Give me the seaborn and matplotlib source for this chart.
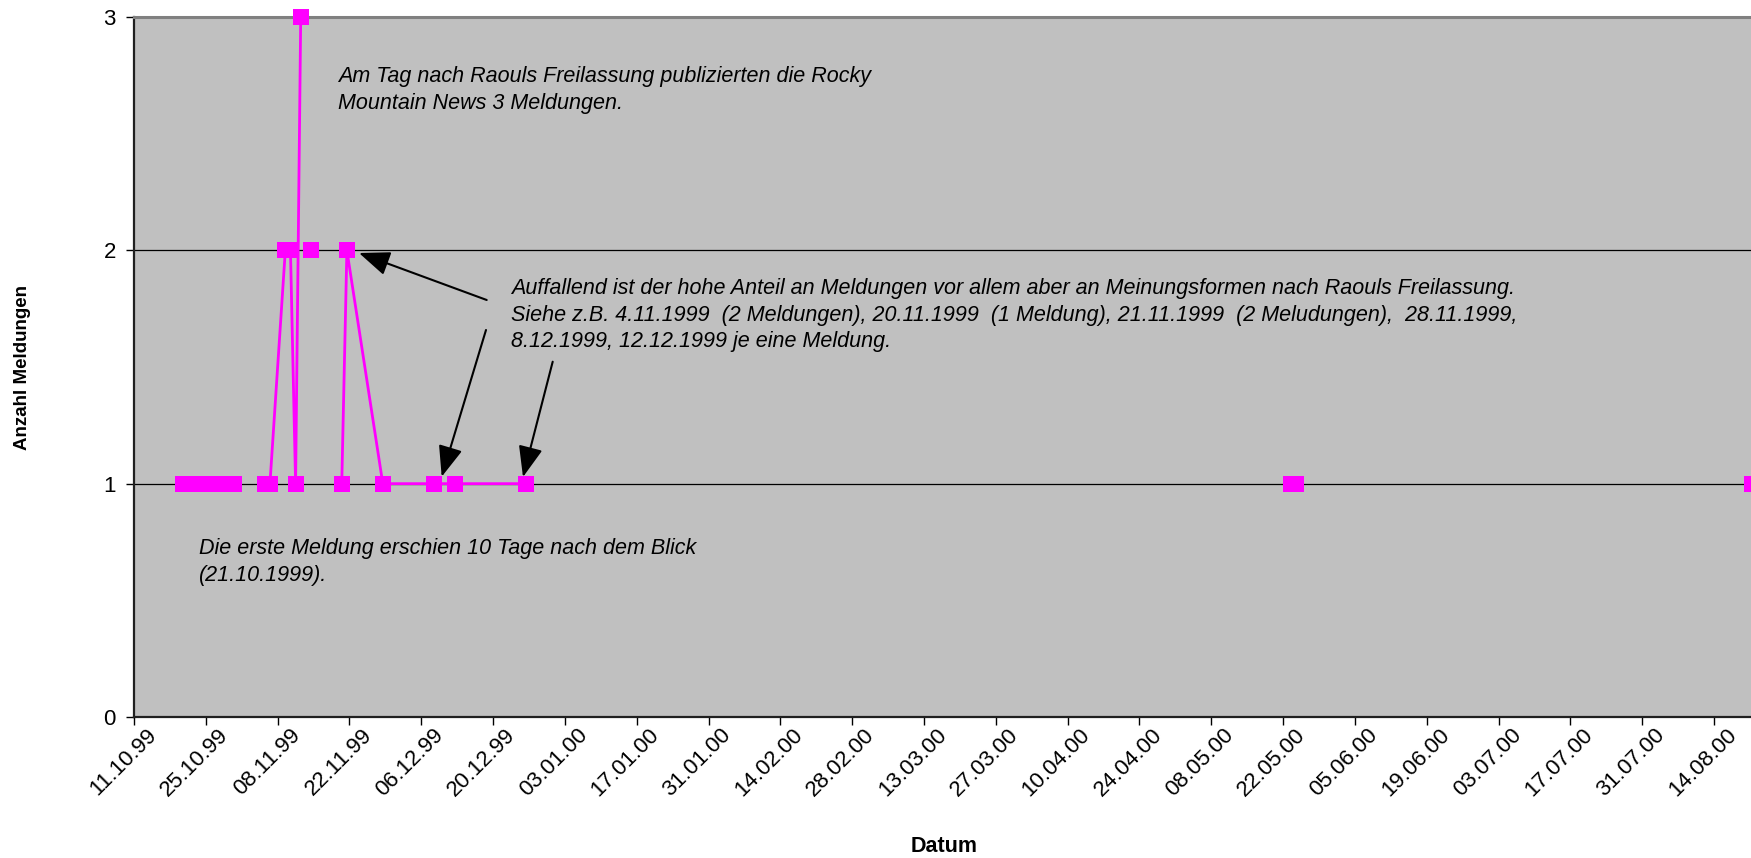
import pandas as pd
import matplotlib
matplotlib.use("Agg")
import matplotlib.pyplot as plt
import matplotlib.dates as mdates
from matplotlib.transforms import ScaledTranslation
import seaborn as sns

# Erscheinungsdaten der Meldungen (Rocky Mountain News) und Anzahl pro Tag
daten = [
    "1999-10-20", "1999-10-23", "1999-10-24", "1999-10-27", "1999-10-30",
    "1999-11-05", "1999-11-06", "1999-11-09", "1999-11-10", "1999-11-11", "1999-11-12",
    "1999-11-14",
    "1999-11-20", "1999-11-21", "1999-11-28", "1999-12-08", "1999-12-12", "1999-12-26",
    "2000-05-23", "2000-05-24",
    "2000-08-21",
]
anzahl = [
    1, 1, 1, 1, 1,
    1, 1, 2, 2, 1, 3,
    2,
    1, 2, 1, 1, 1, 1,
    1, 1,
    1,
]
# zusammenhängende Linienabschnitte (Lücken in der Reihe trennen die Linie)
abschnitt = [1] * 5 + [2] * 6 + [3] + [4] * 6 + [5] * 2 + [6]

achsen_start = "1999-10-11"
achsen_tage = 315.8
tick_abstand_tage = 14
y_ticks = [0, 1, 2, 3]

text_freilassung = ("Am Tag nach Raouls Freilassung publizierten die Rocky\n"
                    "Mountain News 3 Meldungen.")
text_auffallend = ("Auffallend ist der hohe Anteil an Meldungen vor allem aber an Meinungsformen nach Raouls Freilassung.\n"
                   "Siehe z.B. 4.11.1999  (2 Meldungen), 20.11.1999  (1 Meldung), 21.11.1999  (2 Meludungen),  28.11.1999,\n"
                   "8.12.1999, 12.12.1999 je eine Meldung.")
text_erste = ("Die erste Meldung erschien 10 Tage nach dem Blick\n"
              "(21.10.1999).")

sns.set_theme(style="white")
plt.rcParams["font.family"] = ["Liberation Sans", "DejaVu Sans"]

# Punkte sitzen in der Mitte ihres Tages
df = pd.DataFrame({
    "Datum": pd.to_datetime(daten) + pd.Timedelta(hours=12),
    "Anzahl": anzahl,
    "Abschnitt": abschnitt,
})

W, H = 1751, 858
fig = plt.figure(figsize=(W / 100, H / 100), dpi=100)
ax = fig.add_axes([134 / W, (H - 717) / H, 1620 / W, 700 / H])
ax.set_facecolor("#C0C0C0")

sns.lineplot(data=df, x="Datum", y="Anzahl", units="Abschnitt", estimator=None,
             sort=True, color="#FF00FF", marker="s", markersize=11.5,
             markeredgewidth=0, linewidth=2, ax=ax)
for line in ax.lines:
    line.set_clip_on(False)
    line.set_zorder(5)

start = pd.Timestamp(achsen_start)
ax.set_xlim(start, start + pd.Timedelta(days=achsen_tage))
ticks = pd.date_range(start, start + pd.Timedelta(days=achsen_tage), freq=f"{tick_abstand_tage}D")
ax.set_xticks(ticks)
ax.xaxis.set_major_formatter(mdates.DateFormatter("%d.%m.%y"))
ax.set_ylim(0, 3)
ax.set_yticks(y_ticks)

ax.grid(False)
ax.yaxis.grid(True, color="black", linewidth=0.9)
ax.set_axisbelow(True)

for side in ("left", "bottom"):
    ax.spines[side].set_color("#202020")
    ax.spines[side].set_linewidth(1.6)
ax.spines["top"].set_color("#808080")
ax.spines["top"].set_linewidth(2.2)
ax.spines["right"].set_visible(False)

tick_font = 16
ax.tick_params(axis="x", direction="out", length=6, width=1, color="black",
               labelsize=tick_font, labelcolor="black", pad=0, bottom=True)
ax.tick_params(axis="y", direction="out", length=6, width=1, color="black",
               labelsize=tick_font, labelcolor="black", pad=7, left=True)

shift = ScaledTranslation(12 / 100, 1 / 100, fig.dpi_scale_trans)
for lab in ax.get_xticklabels():
    lab.set_fontsize(tick_font)
    lab.set_rotation(45)
    lab.set_ha("right")
    lab.set_va("top")
    lab.set_rotation_mode("anchor")
    lab.set_transform(lab.get_transform() + shift)
for lab in ax.get_yticklabels():
    lab.set_fontsize(tick_font)

ax.set_xlabel("Datum", fontsize=15.5, fontweight="bold", color="black")
ax.xaxis.set_label_coords(0.5, (717 - 846) / 700)
ax.xaxis.label.set_va("center")
ax.set_ylabel("Anzahl Meldungen", fontsize=13.5, fontweight="bold", color="black")
ax.yaxis.set_label_coords((22 - 134) / 1620, 0.5)
ax.yaxis.label.set_va("center")


def fig_px(x, y):
    return x / W, 1 - y / H


text_style = dict(ha="left", va="center", fontsize=15.5, style="italic",
                  color="black", linespacing=1.32)
fig.text(*fig_px(338, 90), text_freilassung, **text_style)
fig.text(*fig_px(511, 315), text_auffallend, **text_style)
fig.text(*fig_px(199, 562), text_erste, **text_style)

pfeile = [((486.7, 300), (359, 253)),
          ((486, 330), (441.7, 476.7)),
          ((552.7, 361.7), (523, 477))]
for (x0, y0), (x1, y1) in pfeile:
    ax.annotate("", xy=(x1, H - y1), xycoords="figure pixels",
                xytext=(x0, H - y0), textcoords="figure pixels",
                arrowprops=dict(arrowstyle="-|>,head_length=1.9,head_width=0.75",
                                color="black", lw=1.5, shrinkA=0, shrinkB=0,
                                mutation_scale=10))

fig.savefig("out.png", dpi=100)
